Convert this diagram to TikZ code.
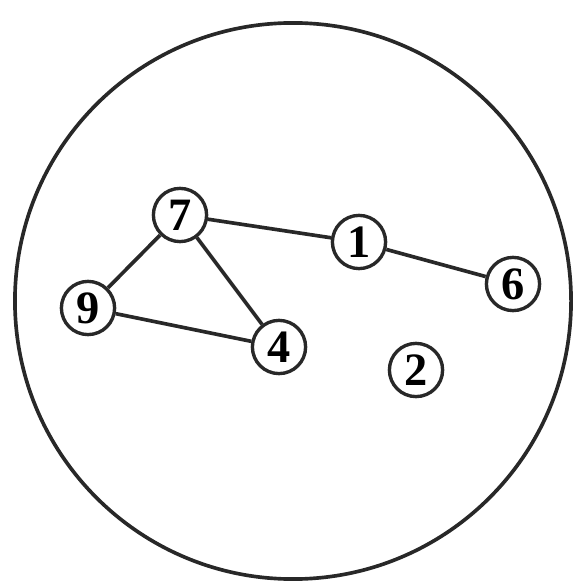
\documentclass[tikz,border=0pt]{standalone}
\usepackage{fontspec}
\setmainfont{Liberation Serif}
\usepackage{tikz}
\usetikzlibrary{positioning}
\definecolor{inkgrey}{RGB}{40,40,40}

\begin{document}
\begin{tikzpicture}[x=0.025cm, y=-0.025cm,
    vertex/.style={circle, draw=inkgrey, line width=2.4pt, fill=white,
        minimum size=1.33cm, inner sep=0pt, font=\fontsize{33}{33}\selectfont\bfseries},
    edge/.style={line width=2.6pt, inkgrey}
]
    \useasboundingbox (0,0) rectangle (575,582);
    \node[circle, draw=inkgrey, line width=2.6pt, minimum size=13.9cm] (world) at (293,301) {};

    \node[vertex] (v7) at (180,215) {7};
    \node[vertex] (v1) at (359,242) {1};
    \node[vertex] (v6) at (513,284) {6};
    \node[vertex] (v9) at (88,308) {9};
    \node[vertex] (v4) at (279,347) {4};
    \node[vertex] (v2) at (416,370) {2};

    \draw[edge] (v7) -- (v1);
    \draw[edge] (v1) -- (v6);
    \draw[edge] (v7) -- (v9);
    \draw[edge] (v7) -- (v4);
    \draw[edge] (v9) -- (v4);
\end{tikzpicture}
\end{document}
